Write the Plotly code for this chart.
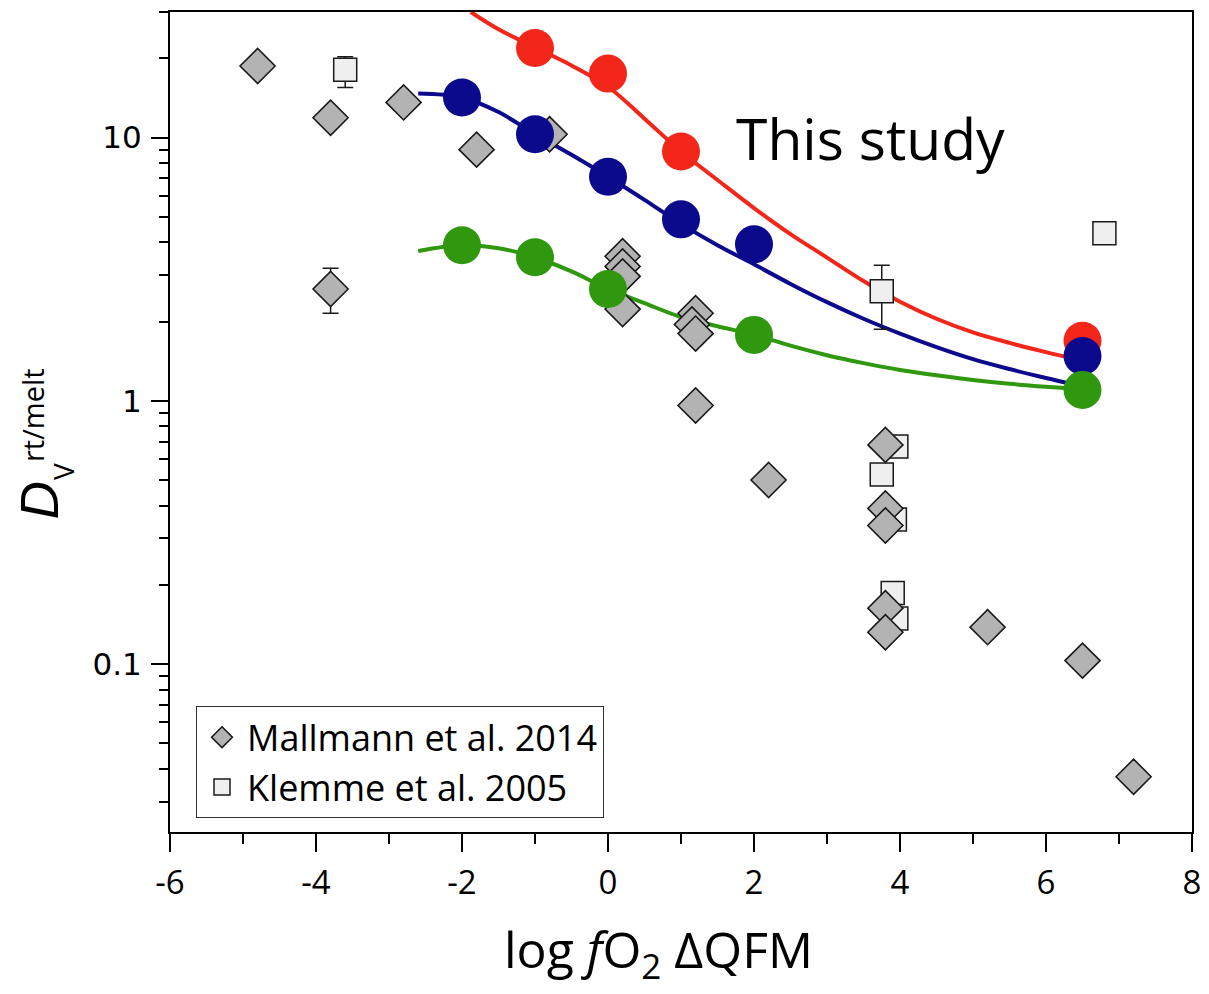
import numpy as np
import plotly.graph_objects as go

# ---------------- data ----------------
# Mallmann et al. 2014 (grey diamonds)
mall_x = [-4.8, -3.8, -2.8, -1.8, -0.8, 0.2, 0.2, 0.2, 0.2, 1.2, 1.15, 1.2, 1.2, 2.2,
          3.8, 3.8, 3.8, 3.8, 3.8, 5.2, 6.5, 7.2]
mall_y = [18.7, 11.9, 13.6, 9.0, 10.3, 3.54, 3.24, 2.97, 2.23, 2.15, 1.95, 1.80, 0.96, 0.50,
          0.68, 0.39, 0.336, 0.163, 0.132, 0.138, 0.103, 0.0373]
# Mallmann point with error bar
mall_err_x = [-3.8]
mall_err_y = [2.66]
mall_err_hi = [3.19]
mall_err_lo = [2.15]

# Klemme et al. 2005 (open squares)
klem_x = [6.8, 3.75, 3.93, 3.9, 3.95]
klem_y = [4.33, 0.525, 0.354, 0.186, 0.149]
klem_err_x = [-3.6, 3.75, 3.95]
klem_err_y = [18.1, 2.61, 0.67]
klem_err_hi = [20.3, 3.27, 0.736]
klem_err_lo = [15.5, 1.87, 0.614]

# This study (circles)
red_x = [-1, 0, 1, 6.5]
red_y = [21.9, 17.5, 8.85, 1.69]
blue_x = [-2, -1, 0, 1, 2, 6.5]
blue_y = [14.2, 10.3, 7.1, 4.89, 3.93, 1.48]
green_x = [-2, -1, 0, 2, 6.5]
green_y = [3.90, 3.51, 2.66, 1.78, 1.10]

# Fitted curves
red_fit_x = [-1.88, -1.5, -1.0, -0.5, 0.0, 0.5, 1.0, 1.5, 2.0, 2.5, 3.0, 3.5, 4.0, 4.5, 5.0, 5.5, 6.0, 6.4]
red_fit_y = [30.0, 25.8, 22.0, 18.8, 15.6, 11.8, 8.85, 6.9, 5.4, 4.3, 3.5, 2.85, 2.38, 2.05, 1.82, 1.66, 1.53, 1.44]
blue_fit_x = [-2.6, -2.0, -1.5, -1.0, -0.5, 0.0, 0.5, 1.0, 1.5, 2.0, 2.5, 3.0, 3.5, 4.0, 4.5, 5.0, 5.5, 6.0, 6.4]
blue_fit_y = [14.7, 14.2, 12.5, 10.3, 8.6, 7.1, 5.8, 4.7, 3.9, 3.3, 2.78, 2.37, 2.05, 1.8, 1.6, 1.44, 1.32, 1.22, 1.15]
green_fit_x = [-2.6, -2.0, -1.5, -1.0, -0.5, 0.0, 0.5, 1.0, 1.5, 2.0, 2.5, 3.0, 3.5, 4.0, 4.5, 5.0, 5.5, 6.0, 6.4]
green_fit_y = [3.71, 3.90, 3.8, 3.51, 3.1, 2.66, 2.35, 2.08, 1.92, 1.78, 1.62, 1.49, 1.39, 1.31, 1.25, 1.20, 1.16, 1.13, 1.11]

x_tickvals = [-6, -4, -2, 0, 2, 4, 6, 8]
x_ticktext = ["-6", "-4", "-2", "0", "2", "4", "6", "8"]
y_tickvals = [0.1, 1, 10]
y_ticktext = ["0.1", "1", "10"]
y_minor = [0.03, 0.04, 0.05, 0.06, 0.07, 0.08, 0.09,
           0.2, 0.3, 0.4, 0.5, 0.6, 0.7, 0.8, 0.9,
           2, 3, 4, 5, 6, 7, 8, 9, 20, 30]

# ---------------- styles ----------------
RED = "#f3261a"
BLUE = "#0b0a8c"
GREEN = "#2f980e"
DIAM_FILL = "#b3b3b3"
SQ_FILL = "#efefef"
FONT = "Open Sans"

fig = go.Figure()

for fx, fy, col in [(red_fit_x, red_fit_y, RED), (blue_fit_x, blue_fit_y, BLUE), (green_fit_x, green_fit_y, GREEN)]:
    fig.add_trace(go.Scatter(x=fx, y=fy, mode="lines", line=dict(color=col, width=4, shape="spline", smoothing=1.0),
                             showlegend=False, hoverinfo="skip"))

sq_marker = dict(symbol="square", size=23, color=SQ_FILL, line=dict(color="#1a1a1a", width=1.5))
dm_marker = dict(symbol="diamond", size=27, color=DIAM_FILL, line=dict(color="#1a1a1a", width=1.6))

# Klemme
fig.add_trace(go.Scatter(
    x=klem_err_x, y=klem_err_y, mode="markers", marker=sq_marker, showlegend=False,
    error_y=dict(type="data", symmetric=False,
                 array=[h - v for h, v in zip(klem_err_hi, klem_err_y)],
                 arrayminus=[v - l for l, v in zip(klem_err_lo, klem_err_y)],
                 color="#1a1a1a", thickness=1.5, width=8)))
fig.add_trace(go.Scatter(x=klem_x, y=klem_y, mode="markers", marker=sq_marker,
                         name="Klemme et al. 2005", legendrank=2))

# Mallmann
fig.add_trace(go.Scatter(
    x=mall_err_x, y=mall_err_y, mode="markers", marker=dm_marker, showlegend=False,
    error_y=dict(type="data", symmetric=False,
                 array=[h - v for h, v in zip(mall_err_hi, mall_err_y)],
                 arrayminus=[v - l for l, v in zip(mall_err_lo, mall_err_y)],
                 color="#1a1a1a", thickness=1.5, width=8)))
fig.add_trace(go.Scatter(x=mall_x, y=mall_y, mode="markers", marker=dm_marker,
                         name="Mallmann et al. 2014", legendrank=1))

# This study circles
for cx, cy, col in [(red_x, red_y, RED), (blue_x, blue_y, BLUE), (green_x, green_y, GREEN)]:
    fig.add_trace(go.Scatter(x=cx, y=cy, mode="markers",
                             marker=dict(symbol="circle", size=38, color=col, line=dict(width=0)),
                             showlegend=False))

# page has an 8px body margin; plot area wanted at x 170..1192, y 10..832 of the page
OFF = 8
PX0, PY0, PW, PH = 170, 10, 1022, 822
W, H = 1209 - OFF, 994 - OFF
L, T = PX0 - OFF, PY0 - OFF
R = W - L - PW
B = H - T - PH

def px(xp):
    return (xp - PX0) / PW

def py(yp):
    return (PY0 + PH - yp) / PH

fig.update_layout(
    width=W, height=H,
    margin=dict(l=L, r=R, t=T, b=B),
    paper_bgcolor="white", plot_bgcolor="white",
    font=dict(family=FONT, color="black"),
    showlegend=True,
    legend=dict(x=px(196), y=py(706), xanchor="left", yanchor="top",
                bordercolor="#333333", borderwidth=1, bgcolor="white",
                font=dict(family=FONT, size=36, color="black"),
                itemwidth=40, tracegroupgap=0),
    xaxis=dict(range=[-6, 8], tickvals=x_tickvals, ticktext=x_ticktext,
               ticks="outside", ticklen=18, tickwidth=2, tickcolor="black",
               showline=True, linewidth=2, linecolor="black", mirror=True,
               showgrid=False, zeroline=False,
               minor=dict(dtick=1, tick0=0, ticks="outside", ticklen=10, tickwidth=2, tickcolor="black", showgrid=False),
               tickfont=dict(family=FONT, size=33, color="black"), ticklabelstandoff=2),
    yaxis=dict(type="log", range=[np.log10(0.023), np.log10(30)],
               tickvals=y_tickvals, ticktext=y_ticktext,
               ticks="outside", ticklen=17, tickwidth=2, tickcolor="black",
               showline=True, linewidth=2, linecolor="black", mirror=True,
               showgrid=False, zeroline=False,
               minor=dict(tickvals=y_minor, ticks="outside", ticklen=9, tickwidth=2, tickcolor="black", showgrid=False),
               tickfont=dict(family="DejaVu Sans", size=31, color="black"), ticklabelstandoff=3),
)

annots = [
    dict(text="This study", x=px(870), y=py(136), font=dict(family=FONT, size=57, color="black")),
    dict(text="log <i>f</i>O<sub>2</sub> ΔQFM", x=px(658), y=py(952), font=dict(family=FONT, size=50, color="black")),
    dict(text="<i>D</i>", x=px(39.5), y=py(500), textangle=-90,
         font=dict(family="Liberation Sans", size=53, color="black")),
    dict(text="V", x=px(63), y=py(471), textangle=-90, font=dict(family=FONT, size=28, color="black")),
    dict(text="rt/melt", x=px(32), y=py(414), textangle=-90, font=dict(family=FONT, size=29, color="black")),
]
for a in annots:
    fig.add_annotation(xref="paper", yref="paper", showarrow=False, xanchor="center", yanchor="middle", **a)

fig.write_html("out.html")
